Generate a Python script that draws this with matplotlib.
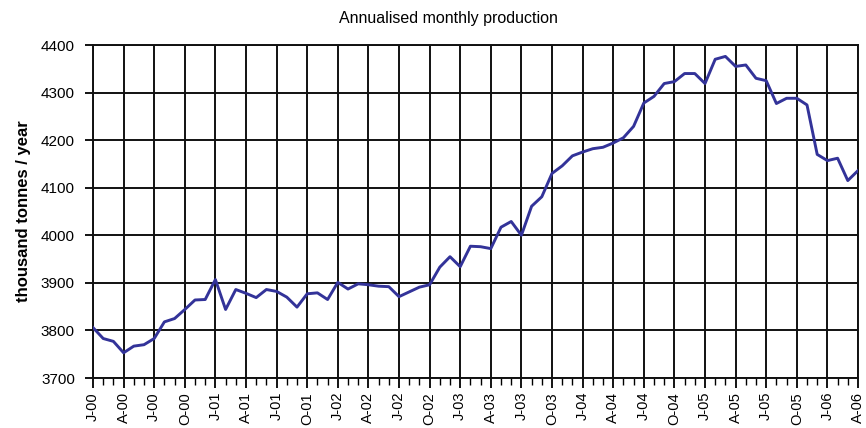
import numpy as np
import pandas as pd
import matplotlib
matplotlib.use('Agg')
import matplotlib.pyplot as plt
from matplotlib.ticker import MultipleLocator

plt.rcParams['font.family'] = ['Liberation Sans', 'DejaVu Sans']

# monthly series, Jan 2000 .. Apr 2006
months = pd.date_range('2000-01-01', periods=76, freq='MS')
production = [
    3806, 3783, 3777, 3753, 3767, 3770, 3783, 3818, 3825, 3844, 3864, 3865,
    3907, 3844, 3886, 3878, 3869, 3886, 3882, 3870, 3849, 3877, 3879, 3865,
    3901, 3887, 3898, 3896, 3893, 3892, 3871, 3881, 3891, 3896, 3933, 3955,
    3934, 3977, 3976, 3972, 4017, 4029, 4000, 4061, 4081, 4130, 4146, 4167,
    4175, 4182, 4185, 4194, 4205, 4229, 4278, 4292, 4319, 4323, 4340, 4340,
    4319, 4370, 4376, 4355, 4358, 4330, 4325, 4277, 4288, 4288, 4274, 4170,
    4157, 4162, 4115, 4136,
]
tick_labels = ['J-00', 'A-00', 'J-00', 'O-00', 'J-01', 'A-01', 'J-01', 'O-01',
               'J-02', 'A-02', 'J-02', 'O-02', 'J-03', 'A-03', 'J-03', 'O-03',
               'J-04', 'A-04', 'J-04', 'O-04', 'J-05', 'A-05', 'J-05', 'O-05',
               'J-06', 'A-06']

x = np.arange(len(months))

fig = plt.figure(figsize=(8.66, 4.28), dpi=100)
ax = fig.add_axes([93/866, 1 - 378/428, (858 - 93)/866, (378 - 45)/428])

ax.plot(x, production, color='#333399', linewidth=2.1, zorder=3)

ax.set_xlim(0, len(months) - 1)
ax.set_ylim(3700, 4400)
ax.yaxis.set_major_locator(MultipleLocator(100))
ax.set_xticks(x[::3])
ax.set_xticklabels(tick_labels, rotation=90, fontsize=10.5)
ax.xaxis.set_minor_locator(MultipleLocator(1))
ax.tick_params(axis='y', labelsize=11, length=6, width=1.3, direction='out', pad=7)
ax.tick_params(axis='x', which='major', length=7, width=1.3, direction='out', pad=3)
ax.tick_params(axis='x', which='minor', length=5, width=1.0, direction='out')

ax.grid(True, which='major', color='#111111', linewidth=1.4)
for s in ax.spines.values():
    s.set_color('#111111')
    s.set_linewidth(1.4)

ax.set_ylabel('thousand tonnes / year', fontsize=12, fontweight='bold', labelpad=7)
fig.text(448/866, 1 - 18/428, 'Annualised monthly production', ha='center', va='center', fontsize=11.5)

fig.savefig('out.png', dpi=100)
